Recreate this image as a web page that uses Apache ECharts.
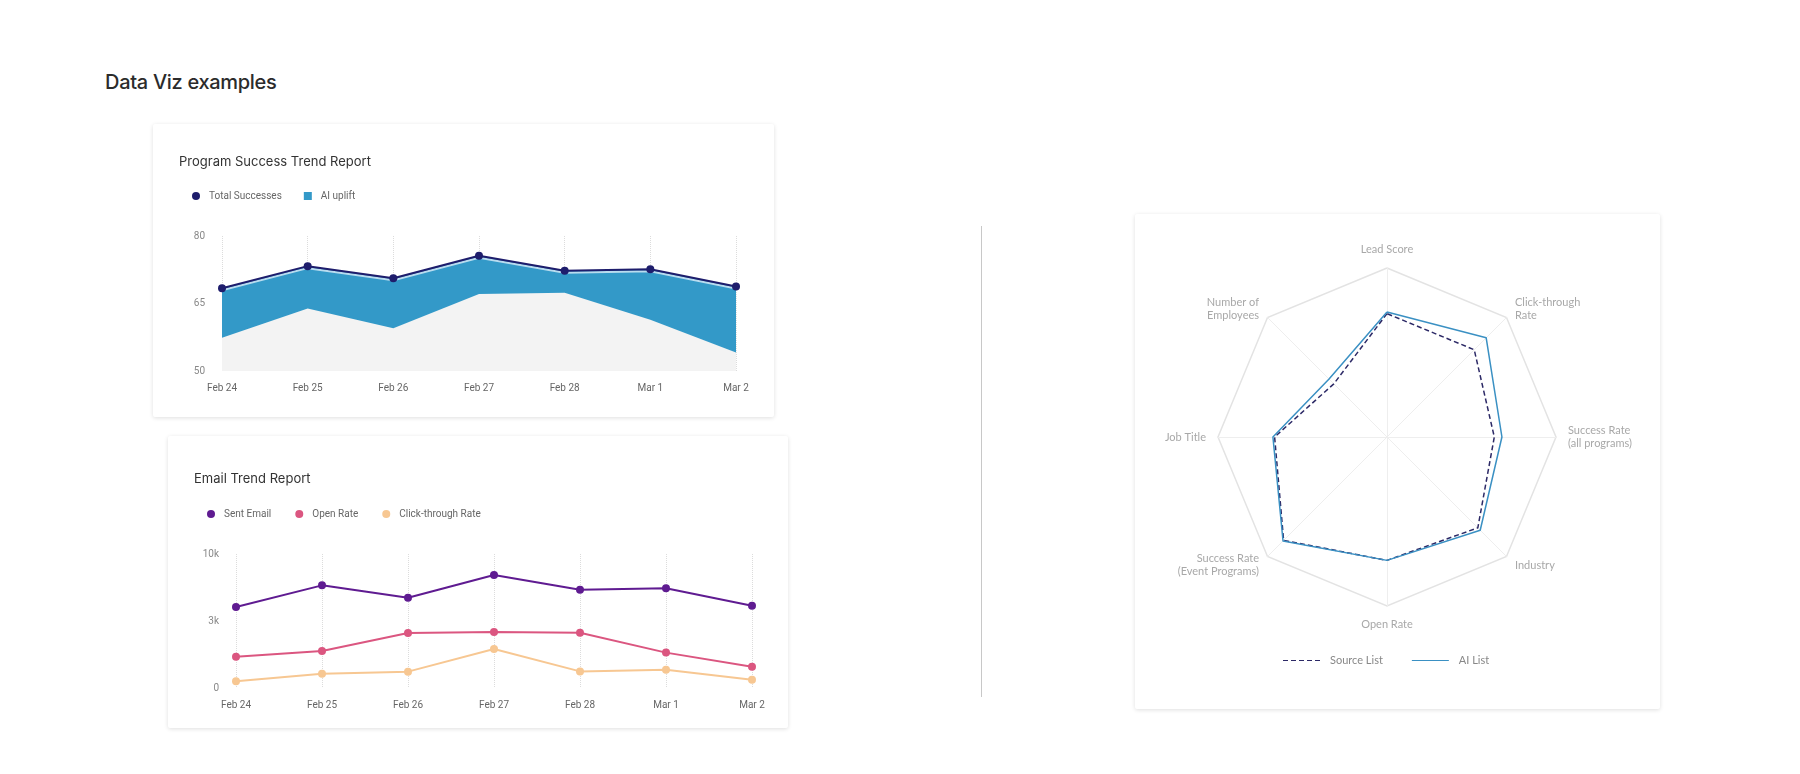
<!DOCTYPE html>
<html>
<head>
<meta charset="utf-8">
<title>Data Viz examples</title>
<script src="https://cdn.jsdelivr.net/npm/echarts@6/dist/echarts.min.js"></script>
<style>
    html, body { margin: 0; padding: 0; background: #fff; }
    body { width: 1800px; height: 774px; position: relative; overflow: hidden; font-family: Inter, Roboto, sans-serif; }
    .page-title { position: absolute; left: 105px; top: 72px; font-size: 20px; line-height: 21px; font-weight: 500; color: #2b2b2b; letter-spacing: -0.3px; }
    .card { position: absolute; background: #fff; box-shadow: 0 1px 4px rgba(0,0,0,0.13); border-radius: 2px; }
    .divider { position: absolute; left: 981px; top: 226px; width: 1px; height: 471px; background: #c8c8c8; }
</style>
</head>
<body>
<div class="page-title">Data Viz examples</div>
<div id="programCard" class="card" style="left:153px;top:124px;width:621px;height:293px;"></div>
<div id="emailCard" class="card" style="left:168px;top:436px;width:620px;height:292px;"></div>
<div class="divider"></div>
<div id="radarCard" class="card" style="left:1135px;top:214px;width:525px;height:495px;"></div>

<script>
    // shared x categories
    var categories = ["Feb 24", "Feb 25", "Feb 26", "Feb 27", "Feb 28", "Mar 1", "Mar 2"];

    // Program Success Trend Report
    var totalSuccesses = [68.4, 73.3, 70.6, 75.6, 72.3, 72.6, 68.8];
    var baselineSuccesses = [57.4, 63.9, 59.5, 67.1, 67.4, 61.4, 54.1];

    // Email Trend Report (plotted on an evenly spaced 0 / 3k / 10k axis)
    var emailTicks = ["0", "3k", "10k"];
    var sentEmail = [6050, 7660, 6740, 8430, 7340, 7440, 6140];
    var openRate = [2340, 2760, 4100, 4180, 4130, 2640, 1590];
    var clickRate = [500, 1070, 1220, 2910, 1240, 1370, 620];

    // radar, listed counter-clockwise from the top
    var radarIndicators = ["Lead Score", "Number of\nEmployees", "Job Title", "Success Rate\n(Event Programs)",
        "Open Rate", "Industry", "Success Rate\n(all programs)", "Click-through\nRate"];
    var sourceList = [73, 44.5, 66.5, 86.5, 73, 76, 63.5, 73];
    var aiList = [74, 48.5, 67.5, 87, 73, 78, 68, 83];

    var labelFont = "Roboto, sans-serif";
    // legend icons for the radar: dashed and solid strokes
    var dashIcon = "path://M0,0h5v1h-5z M8,0h5v1h-5z M16,0h5v1h-5z M24,0h5v1h-5z M32,0h5v1h-5z";
    var solidIcon = "path://M0,0h37v1h-37z";

    function cardTitle(text, top){
        return {
            text: text,
            left: 21,
            top: top,
            textStyle: { fontFamily: "Inter, sans-serif", fontSize: 13, fontWeight: 400, color: "#333" }
        };
    }

    function categoryAxis(){
        return {
            type: "category",
            data: categories,
            boundaryGap: false,
            axisLine: { show: false },
            axisTick: { show: false },
            axisLabel: { color: "#666", fontSize: 10, fontFamily: labelFont, margin: 12 },
            splitLine: { show: true, lineStyle: { color: "#dcdcdc", type: "dotted", width: 1 } }
        };
    }

    function initProgramChart(){
        var chart = echarts.init(document.getElementById("programCard"));
        chart.setOption({
            animation: false,
            title: cardTitle("Program Success Trend Report", 27),
            legend: {
                left: 34, top: 62, itemWidth: 8, itemHeight: 8, itemGap: 22,
                textStyle: { color: "#666", fontSize: 10, fontFamily: labelFont, padding: [0, 0, 0, 4] },
                data: [
                    { name: "Total Successes", icon: "circle" },
                    { name: "AI uplift", icon: "rect" }
                ]
            },
            grid: { left: 69, right: 38, top: 112, bottom: 46 },
            xAxis: categoryAxis(),
            yAxis: {
                type: "value", min: 50, max: 80, interval: 15,
                splitLine: { show: false },
                axisLabel: { color: "#888", fontSize: 10, fontFamily: labelFont, margin: 17 }
            },
            series: [
                {
                    name: "AI uplift", type: "line", data: totalSuccesses, symbol: "none", silent: true,
                    itemStyle: { color: "#3399c8" },
                    lineStyle: { width: 0 },
                    areaStyle: { color: "#3399c8", opacity: 1, origin: "start" }
                },
                {
                    name: "baseline", type: "line", data: baselineSuccesses, symbol: "none", silent: true,
                    lineStyle: { width: 0 },
                    areaStyle: { color: "#f3f3f3", opacity: 1, origin: "start" }
                },
                {
                    name: "Total Successes", type: "line", data: totalSuccesses,
                    symbol: "circle", symbolSize: 8,
                    itemStyle: { color: "#1e1d6c" },
                    lineStyle: { color: "#1e1d6c", width: 2, shadowColor: "#b9dcef", shadowOffsetY: 2, shadowBlur: 0 }
                }
            ]
        });
        return chart;
    }

    function initEmailChart(){
        var chart = echarts.init(document.getElementById("emailCard"));
        var lines = [
            { name: "Sent Email", data: sentEmail, color: "#5f1b91" },
            { name: "Open Rate", data: openRate, color: "#db5680" },
            { name: "Click-through Rate", data: clickRate, color: "#f7c792" }
        ];
        chart.setOption({
            animation: false,
            title: cardTitle("Email Trend Report", 32),
            legend: {
                left: 34, top: 68, itemWidth: 8, itemHeight: 8, itemGap: 24, icon: "circle",
                textStyle: { color: "#666", fontSize: 10, fontFamily: labelFont, padding: [0, 0, 0, 4] }
            },
            grid: { left: 68, right: 36, top: 118, bottom: 40 },
            xAxis: categoryAxis(),
            yAxis: {
                type: "value", min: 0, max: 10000, interval: 5000,
                splitLine: { show: false },
                axisLabel: {
                    color: "#888", fontSize: 10, fontFamily: labelFont, margin: 17,
                    formatter: function(v){ return emailTicks[Math.round(v / 5000)]; }
                }
            },
            series: lines.map(function(l){
                return {
                    name: l.name, type: "line", data: l.data,
                    symbol: "circle", symbolSize: 8,
                    itemStyle: { color: l.color },
                    lineStyle: { color: l.color, width: 2 }
                };
            })
        });
        return chart;
    }

    function initRadarChart(){
        var chart = echarts.init(document.getElementById("radarCard"));
        var sourceStyle = { color: "#2c2966", width: 1.5, type: [5, 3] };
        var aiStyle = { color: "#3a90c3", width: 1.5 };
        chart.setOption({
            animation: false,
            legend: {
                left: 143, top: 436, itemWidth: 37, itemHeight: 2, itemGap: 29,
                textStyle: { color: "#888", fontSize: 11, fontFamily: "Lato, sans-serif", padding: [0, 0, 0, 5] },
                data: [
                    { name: "Source List", icon: dashIcon },
                    { name: "AI List", icon: solidIcon }
                ]
            },
            radar: {
                center: [252, 223],
                radius: 169,
                startAngle: 90,
                splitNumber: 1,
                shape: "polygon",
                nameGap: 12,
                axisName: { color: "#a8a8a8", fontSize: 11, fontFamily: "Lato, sans-serif", lineHeight: 13 },
                splitLine: { lineStyle: { color: "#e3e3e3", width: 1.5 } },
                splitArea: { show: false },
                axisLine: { lineStyle: { color: "#eeeeee" } },
                indicator: radarIndicators.map(function(n){ return { name: n, min: 0, max: 100 }; })
            },
            series: [
                {
                    name: "radar", type: "radar", symbol: "none",
                    data: [
                        { name: "Source List", value: sourceList, lineStyle: sourceStyle, itemStyle: { color: sourceStyle.color } },
                        { name: "AI List", value: aiList, lineStyle: aiStyle, itemStyle: { color: aiStyle.color } }
                    ]
                }
            ]
        });
        return chart;
    }

    initProgramChart();
    initEmailChart();
    initRadarChart();
</script>
</body>
</html>
